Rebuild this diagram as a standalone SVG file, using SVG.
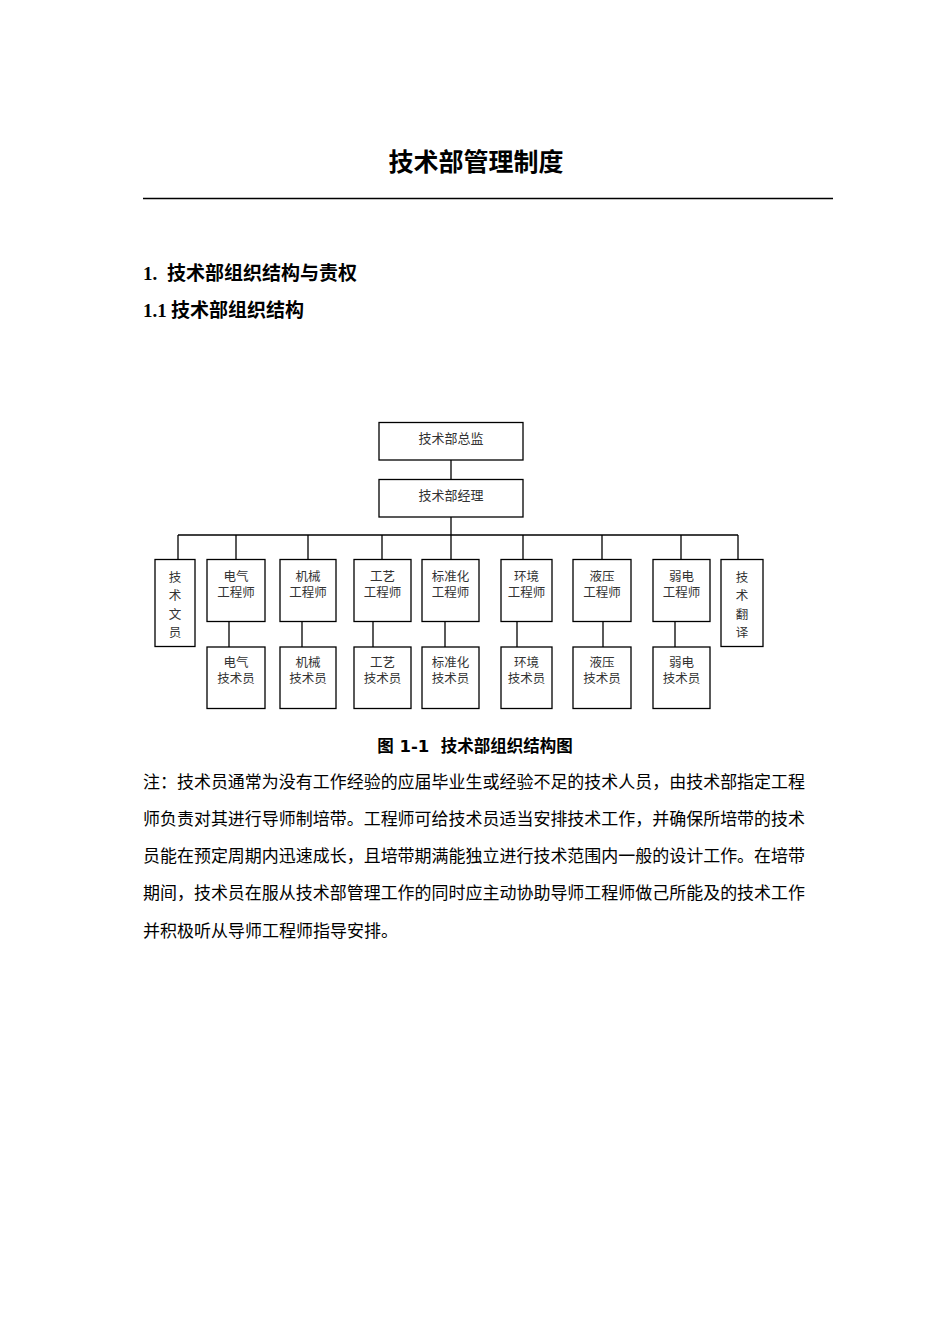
<svg xmlns="http://www.w3.org/2000/svg" width="950" height="1344" viewBox="0 0 950 1344">
<style>
.box{fill:#fff;stroke:#000;stroke-width:1.3}
.ln{stroke:#000;stroke-width:1.3;fill:none}
.bt{font-family:"Noto Sans CJK SC","Noto Sans",sans-serif;font-size:13px;fill:#333;text-anchor:middle}
.st{font-family:"Noto Sans CJK SC","Noto Sans",sans-serif;font-size:12.5px;fill:#333;text-anchor:middle}
.title{font-family:"Liberation Serif","Noto Sans CJK SC",serif;font-weight:bold;font-size:25px;text-anchor:middle}
.h{font-family:"Liberation Serif","Noto Sans CJK SC",serif;font-weight:bold;font-size:19px}
.cap{font-family:"DejaVu Sans","Noto Sans CJK SC",sans-serif;font-weight:bold;font-size:16.5px;text-anchor:middle}
.body{font-family:"Noto Sans CJK SC",sans-serif;font-size:17px;fill:#000}
</style>
<rect width="950" height="1344" fill="#fff"/>
<text class="title" x="476" y="171">技术部管理制度</text>
<line x1="143" y1="198.5" x2="833" y2="198.5" stroke="#000" stroke-width="1.3"/>
<text class="h" x="143" y="280">1.<tspan x="167">技术部组织结构与责权</tspan></text>
<text class="h" x="143" y="317">1.1<tspan x="171">技术部组织结构</tspan></text>

<g id="connectors">
<line class="ln" x1="451" y1="460" x2="451" y2="479"/>
<line class="ln" x1="451" y1="517" x2="451" y2="559"/>
<line class="ln" x1="178" y1="535" x2="738" y2="535"/>
<line class="ln" x1="178" y1="535" x2="178" y2="559"/>
<line class="ln" x1="236" y1="535" x2="236" y2="559"/>
<line class="ln" x1="308" y1="535" x2="308" y2="559"/>
<line class="ln" x1="382" y1="535" x2="382" y2="559"/>
<line class="ln" x1="523" y1="535" x2="523" y2="559"/>
<line class="ln" x1="602" y1="535" x2="602" y2="559"/>
<line class="ln" x1="681" y1="535" x2="681" y2="559"/>
<line class="ln" x1="738" y1="535" x2="738" y2="559"/>
<line class="ln" x1="229" y1="622" x2="229" y2="647"/>
<line class="ln" x1="302" y1="622" x2="302" y2="647"/>
<line class="ln" x1="373" y1="622" x2="373" y2="647"/>
<line class="ln" x1="445" y1="622" x2="445" y2="647"/>
<line class="ln" x1="517" y1="622" x2="517" y2="647"/>
<line class="ln" x1="603" y1="622" x2="603" y2="647"/>
<line class="ln" x1="675" y1="622" x2="675" y2="647"/>
</g>

<g id="director"><rect class="box" x="379" y="422.5" width="144" height="37.5"/><text class="bt" x="451" y="443">技术部总监</text></g>
<g id="manager"><rect class="box" x="379" y="479.5" width="144" height="37.5"/><text class="bt" x="451" y="500">技术部经理</text></g>

<g id="clerk"><rect class="box" x="155" y="559.5" width="40" height="87"/>
<text class="st" x="175" y="582">技<tspan x="175" y="600.3">术</tspan><tspan x="175" y="618.6">文</tspan><tspan x="175" y="637">员</tspan></text></g>

<g id="eng-elec"><rect class="box" x="207" y="559.5" width="58" height="62"/><text class="st" x="236" y="580.5">电气<tspan x="236" y="597">工程师</tspan></text></g>
<g id="eng-mech"><rect class="box" x="280" y="559.5" width="56" height="62"/><text class="st" x="308" y="580.5">机械<tspan x="308" y="597">工程师</tspan></text></g>
<g id="eng-proc"><rect class="box" x="354" y="559.5" width="57" height="62"/><text class="st" x="382.5" y="580.5">工艺<tspan x="382.5" y="597">工程师</tspan></text></g>
<g id="eng-std"><rect class="box" x="422" y="559.5" width="57" height="62"/><text class="st" x="450.5" y="580.5">标准化<tspan x="450.5" y="597">工程师</tspan></text></g>
<g id="eng-env"><rect class="box" x="501" y="559.5" width="51" height="62"/><text class="st" x="526.5" y="580.5">环境<tspan x="526.5" y="597">工程师</tspan></text></g>
<g id="eng-hyd"><rect class="box" x="573" y="559.5" width="58" height="62"/><text class="st" x="602" y="580.5">液压<tspan x="602" y="597">工程师</tspan></text></g>
<g id="eng-weak"><rect class="box" x="653" y="559.5" width="57" height="62"/><text class="st" x="681.5" y="580.5">弱电<tspan x="681.5" y="597">工程师</tspan></text></g>

<g id="translator"><rect class="box" x="721" y="559.5" width="42" height="87"/>
<text class="st" x="742" y="582">技<tspan x="742" y="600.3">术</tspan><tspan x="742" y="618.6">翻</tspan><tspan x="742" y="637">译</tspan></text></g>

<g id="tech-elec"><rect class="box" x="207" y="647" width="58" height="61.5"/><text class="st" x="236" y="666.5">电气<tspan x="236" y="683">技术员</tspan></text></g>
<g id="tech-mech"><rect class="box" x="280" y="647" width="56" height="61.5"/><text class="st" x="308" y="666.5">机械<tspan x="308" y="683">技术员</tspan></text></g>
<g id="tech-proc"><rect class="box" x="354" y="647" width="57" height="61.5"/><text class="st" x="382.5" y="666.5">工艺<tspan x="382.5" y="683">技术员</tspan></text></g>
<g id="tech-std"><rect class="box" x="422" y="647" width="57" height="61.5"/><text class="st" x="450.5" y="666.5">标准化<tspan x="450.5" y="683">技术员</tspan></text></g>
<g id="tech-env"><rect class="box" x="501" y="647" width="51" height="61.5"/><text class="st" x="526.5" y="666.5">环境<tspan x="526.5" y="683">技术员</tspan></text></g>
<g id="tech-hyd"><rect class="box" x="573" y="647" width="58" height="61.5"/><text class="st" x="602" y="666.5">液压<tspan x="602" y="683">技术员</tspan></text></g>
<g id="tech-weak"><rect class="box" x="653" y="647" width="57" height="61.5"/><text class="st" x="681.5" y="666.5">弱电<tspan x="681.5" y="683">技术员</tspan></text></g>

<text class="cap" x="475" y="752" xml:space="preserve">图 1-1  技术部组织结构图</text>

<text class="body" x="143" y="788" textLength="662" lengthAdjust="spacingAndGlyphs">注：技术员通常为没有工作经验的应届毕业生或经验不足的技术人员，由技术部指定工程</text>
<text class="body" x="143" y="825" textLength="662" lengthAdjust="spacingAndGlyphs">师负责对其进行导师制培带。工程师可给技术员适当安排技术工作，并确保所培带的技术</text>
<text class="body" x="143" y="862" textLength="662" lengthAdjust="spacingAndGlyphs">员能在预定周期内迅速成长，且培带期满能独立进行技术范围内一般的设计工作。在培带</text>
<text class="body" x="143" y="899" textLength="662" lengthAdjust="spacingAndGlyphs">期间，技术员在服从技术部管理工作的同时应主动协助导师工程师做己所能及的技术工作</text>
<text class="body" x="143" y="937">并积极听从导师工程师指导安排。</text>
</svg>
